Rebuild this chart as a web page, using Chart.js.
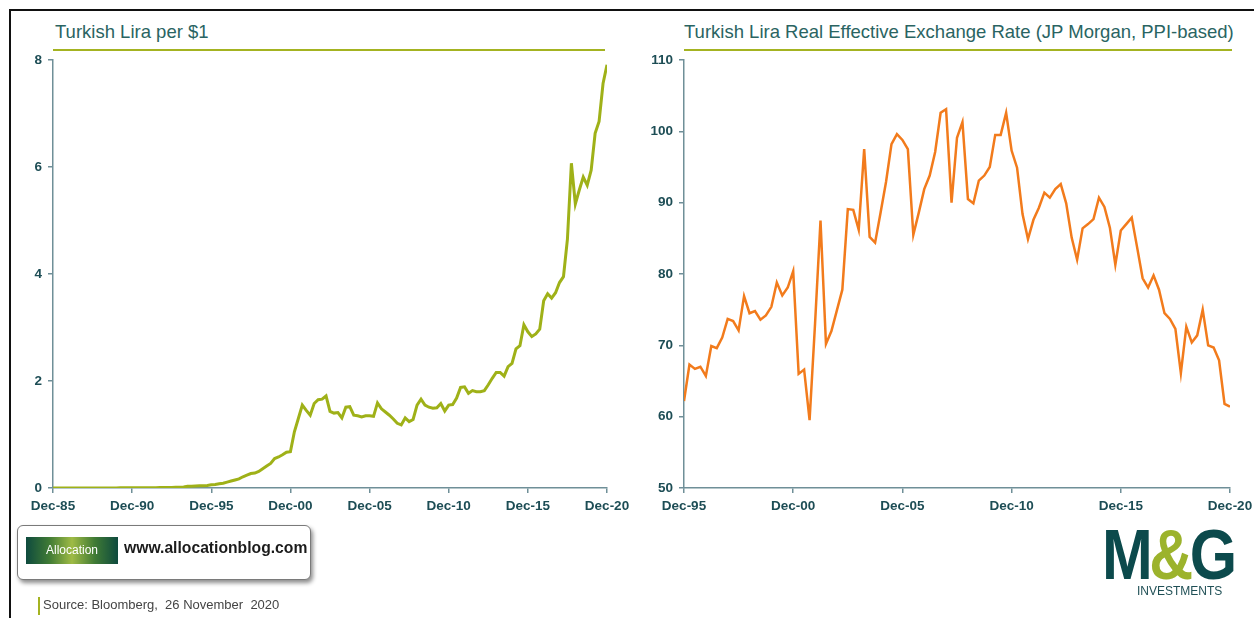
<!DOCTYPE html>
<html>
<head>
<meta charset="utf-8">
<script src="https://cdn.jsdelivr.net/npm/chart.js@4.4.1/dist/chart.umd.min.js"></script>
<style>
    body { margin: 0; width: 1254px; height: 618px; background: #fff; position: relative; overflow: hidden; font-family: "Liberation Sans", Arial, sans-serif; }
    .frame { position: absolute; left: 9px; top: 9px; right: -5px; bottom: -5px; border-top: 2px solid #111; border-left: 2px solid #111; }
    .title { position: absolute; top: 21px; font-size: 18.5px; color: #2a6462; white-space: nowrap; }
    .title-rule { position: absolute; top: 49px; height: 2px; background: #a4b321; }
    canvas { position: absolute; }
    .blog-box { position: absolute; left: 17px; top: 525px; width: 292px; height: 53px; border: 1px solid #7a7a7a; border-radius: 6px; background: #fff; box-shadow: 2px 3px 4px rgba(0,0,0,0.45); }
    .blog-logo { position: absolute; left: 8px; top: 11px; width: 92px; height: 27px; background: linear-gradient(90deg, #0e4a3e 0%, #3f7a35 25%, #9fbb45 50%, #3f7a35 75%, #0e4a3e 100%); color: #fff; font-size: 12px; line-height: 27px; text-align: center; }
    .blog-url { position: absolute; left: 106px; top: 13px; font-size: 15.7px; font-weight: bold; color: #1b1b1b; }
    .source { position: absolute; left: 38px; top: 597px; border-left: 2px solid #a4b321; padding-left: 3px; font-size: 13px; color: #444; height: 18px; line-height: 15px; white-space: pre; }
    .mg { position: absolute; left: 1102px; top: 520px; font-family: "Liberation Sans", Arial, sans-serif; font-weight: bold; font-size: 70px; line-height: 70px; color: #0c4a4c; letter-spacing: -4px; transform: scaleX(0.87); transform-origin: left top; }
    .mg .amp { color: #9cb32c; }
    .mg-sub { position: absolute; left: 1137px; top: 584px; font-size: 12px; color: #1f4f55; }
</style>
</head>
<body>
<div class="frame"></div>

<div class="title" style="left:55px;">Turkish Lira per $1</div>
<div class="title-rule" style="left:53px; width:552px;"></div>
<div class="title" style="left:684px;">Turkish Lira Real Effective Exchange Rate (JP Morgan, PPI-based)</div>
<div class="title-rule" style="left:684px; width:548px;"></div>

<canvas id="liraChart" width="640" height="480" style="left:0; top:45px;"></canvas>
<canvas id="reerChart" width="634" height="480" style="left:620px; top:45px;"></canvas>

<div class="blog-box">
    <div class="blog-logo">Allocation</div>
    <div class="blog-url">www.allocationblog.com</div>
</div>
<div class="source">Source: Bloomberg,  26 November  2020</div>

<div class="mg">M<span class="amp">&amp;</span>G</div>
<div class="mg-sub">INVESTMENTS</div>

<script>
// Données : trimestrielles, Dec-85 -> Nov-20 (TRY par USD)
const liraValues = [
    0.0006, 0.0006, 0.0007, 0.0007, 0.0008, 0.0008, 0.0009, 0.0009, 0.001, 0.0012,
    0.0013, 0.0015, 0.0018, 0.002, 0.0021, 0.0022, 0.0023, 0.0025, 0.0026, 0.0028,
    0.003, 0.0035, 0.004, 0.0045, 0.005, 0.006, 0.0065, 0.0075, 0.0087, 0.0095,
    0.011, 0.012, 0.0145, 0.02, 0.031, 0.033, 0.038, 0.042, 0.044, 0.047,
    0.06, 0.067, 0.08, 0.09, 0.11, 0.13, 0.15, 0.17, 0.21, 0.24,
    0.27, 0.28, 0.31, 0.36, 0.41, 0.46, 0.55, 0.58, 0.62, 0.67,
    0.68, 1.05, 1.30, 1.55, 1.45, 1.36, 1.58, 1.65, 1.66, 1.72,
    1.43, 1.40, 1.41, 1.31, 1.51, 1.52, 1.36, 1.35, 1.33, 1.35,
    1.35, 1.34, 1.59, 1.48, 1.42, 1.36, 1.29, 1.21, 1.18, 1.31,
    1.24, 1.28, 1.55, 1.66, 1.55, 1.51, 1.49, 1.50, 1.58, 1.44,
    1.55, 1.56, 1.68, 1.88, 1.89, 1.77, 1.82, 1.80, 1.80, 1.82,
    1.93, 2.05, 2.16, 2.16, 2.09, 2.27, 2.33, 2.60, 2.66, 3.05,
    2.92, 2.83, 2.88, 2.97, 3.50, 3.63, 3.55, 3.65, 3.84, 3.95,
    4.65, 6.07, 5.31, 5.57, 5.81, 5.66, 5.94, 6.63, 6.85, 7.56,
    7.91
];

// Données : trimestrielles, Dec-95 -> Nov-20 (REER JP Morgan)
const reerValues = [
    62.2, 67.3, 66.7, 67.0, 65.7, 69.9, 69.6, 71.1, 73.7, 73.4,
    72.1, 76.9, 74.5, 74.8, 73.6, 74.2, 75.4, 78.8, 77.0, 78.1,
    80.4, 66.0, 66.6, 59.5, 73.0, 87.5, 70.2, 72.0, 74.9, 77.8,
    89.1, 89.0, 86.2, 97.5, 85.2, 84.4, 88.6, 92.9, 98.2, 99.6,
    98.8, 97.5, 85.5, 88.6, 91.9, 93.8, 97.1, 102.6, 103.1, 90.0,
    99.1, 101.3, 90.5, 89.9, 93.1, 93.8, 95.0, 99.5, 99.5, 102.6,
    97.3, 94.9, 88.4, 84.9, 87.6, 89.3, 91.4, 90.7, 91.9, 92.6,
    89.9, 85.1, 82.0, 86.4, 87.0, 87.7, 90.7, 89.4, 86.5, 81.3,
    86.1, 87.0, 87.9, 83.7, 79.4, 78.1, 79.8, 77.8, 74.5, 73.7,
    72.3, 66.1, 72.6, 70.4, 71.4, 75.0, 70.0, 69.7, 67.9, 61.8,
    61.4
];

// Libellés des axes X (un tous les 20 trimestres)
const liraTickLabels = ['Dec-85', 'Dec-90', 'Dec-95', 'Dec-00', 'Dec-05', 'Dec-10', 'Dec-15', 'Dec-20'];
const reerTickLabels = ['Dec-95', 'Dec-00', 'Dec-05', 'Dec-10', 'Dec-15', 'Dec-20'];

const axisColor = '#6f8f98';
const tickColor = '#1d4d55';

Chart.defaults.font.family = '"Liberation Sans", Arial, sans-serif';
Chart.defaults.animation = false;

// Fixe la largeur de l'axe Y et la hauteur de l'axe X
function fixWidth(w) {
    return function (scale) {
        scale.width = w;
        scale.paddingTop = 0;
        scale.paddingBottom = 0;
    };
}
function fixHeight(h) {
    return function (scale) {
        scale.height = h;
        scale.paddingLeft = 0;
        scale.paddingRight = 0;
    };
}

function buildOptions(yMin, yMax, yStep, xMax, labels, yWidth, padRight) {
    return {
        responsive: false,
        devicePixelRatio: 1,
        layout: { padding: { top: 15, right: padRight, left: 0, bottom: 0 } },
        plugins: { legend: { display: false }, tooltip: { enabled: false } },
        elements: { point: { radius: 0 }, line: { tension: 0 } },
        scales: {
            x: {
                type: 'linear',
                min: 0,
                max: xMax,
                afterFit: fixHeight(37),
                border: { display: true, color: axisColor, width: 1.5 },
                grid: { drawOnChartArea: false, drawTicks: true, tickLength: 5, color: axisColor, lineWidth: 1.5 },
                ticks: {
                    stepSize: 20,
                    autoSkip: false,
                    maxRotation: 0,
                    padding: 5,
                    color: tickColor,
                    font: { size: 13.5, weight: 'bold' },
                    callback: v => labels[Math.round(v / 20)]
                }
            },
            y: {
                min: yMin,
                max: yMax,
                afterFit: fixWidth(yWidth),
                border: { display: true, color: axisColor, width: 1.5 },
                grid: { drawOnChartArea: false, drawTicks: true, tickLength: 5, color: axisColor, lineWidth: 1.5 },
                ticks: {
                    stepSize: yStep,
                    padding: 6,
                    color: tickColor,
                    font: { size: 13.5, weight: 'bold' }
                }
            }
        }
    };
}

// Graphique : livre turque par dollar
const liraCtx = document.getElementById('liraChart').getContext('2d');
const liraChart = new Chart(liraCtx, {
    type: 'line',
    data: {
        datasets: [{
            data: liraValues.map((v, i) => ({ x: i, y: v })),
            borderColor: '#9fb118',
            borderWidth: 3,
            fill: false
        }]
    },
    options: buildOptions(0, 8, 2, 140, liraTickLabels, 53, 33)
});

// Graphique : taux de change effectif réel
const reerCtx = document.getElementById('reerChart').getContext('2d');
const reerChart = new Chart(reerCtx, {
    type: 'line',
    data: {
        datasets: [{
            data: reerValues.map((v, i) => ({ x: i, y: v })),
            borderColor: '#f27b1c',
            borderWidth: 2.5,
            fill: false
        }]
    },
    options: buildOptions(50, 110, 10, 100, reerTickLabels, 64, 24)
});
</script>
</body>
</html>
